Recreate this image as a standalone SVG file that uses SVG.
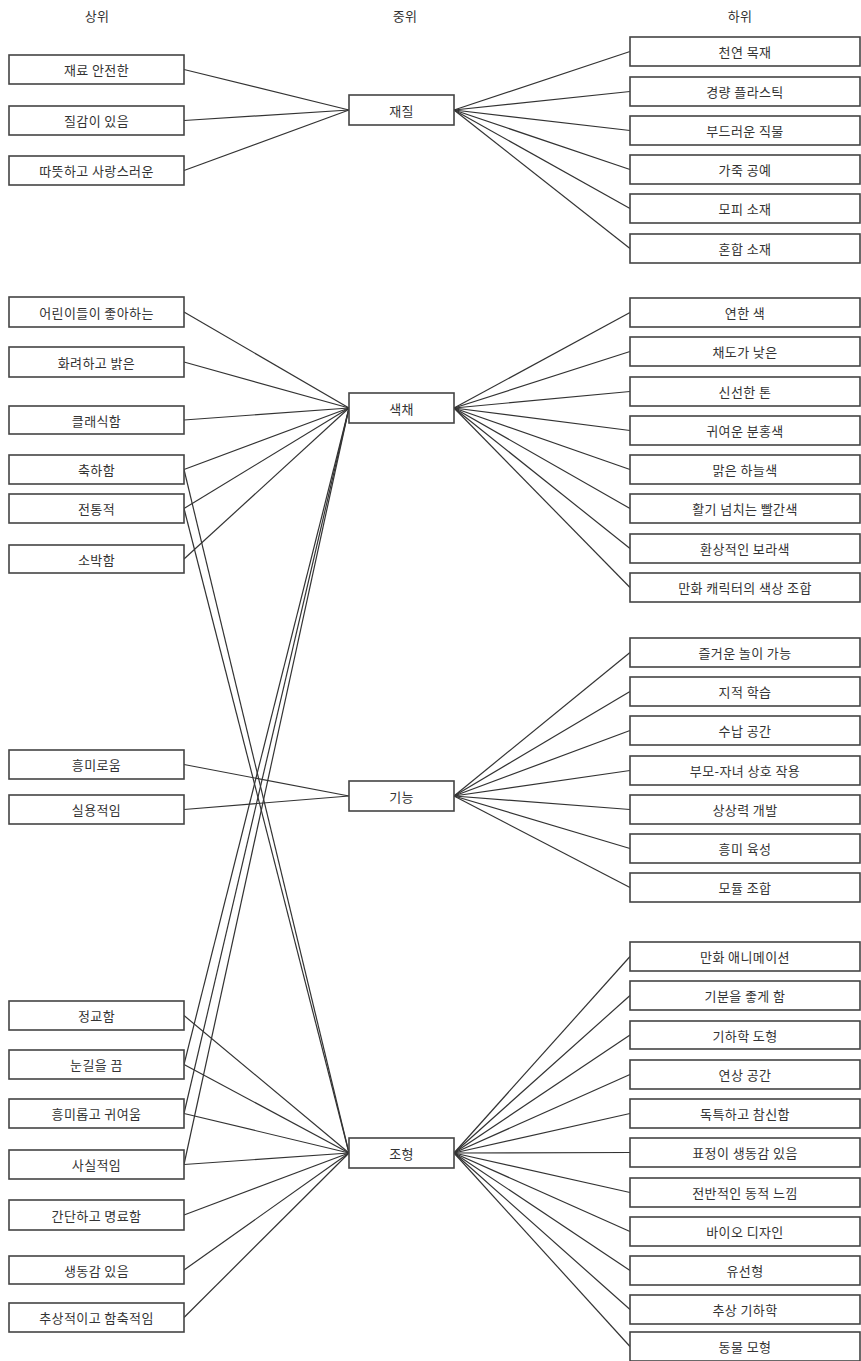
<svg xmlns="http://www.w3.org/2000/svg" width="861" height="1361" viewBox="0 0 861 1361">
<style>
.b{fill:#fff;stroke:#444;stroke-width:1.6}
.t{font-family:"Noto Sans CJK KR","Noto Sans",sans-serif;font-size:13px;letter-spacing:0.4px;fill:#333;text-anchor:middle;dominant-baseline:central}
.c line{stroke:#333;stroke-width:1.2}
</style>
<rect width="861" height="1361" fill="#fff"/>
<g id="headers">
<text class="t" x="97" y="15">상위</text>
<text class="t" x="405" y="15">중위</text>
<text class="t" x="740" y="15">하위</text>
</g>
<g class="c" id="connectors">
<line x1="184" y1="69.5" x2="349" y2="110"/>
<line x1="184" y1="120.5" x2="349" y2="110"/>
<line x1="184" y1="170.5" x2="349" y2="110"/>
<line x1="454" y1="110" x2="630" y2="51.5"/>
<line x1="454" y1="110" x2="630" y2="91.5"/>
<line x1="454" y1="110" x2="630" y2="130.5"/>
<line x1="454" y1="110" x2="630" y2="169.5"/>
<line x1="454" y1="110" x2="630" y2="208.5"/>
<line x1="454" y1="110" x2="630" y2="248.5"/>
<line x1="184" y1="312" x2="349" y2="408"/>
<line x1="184" y1="362" x2="349" y2="408"/>
<line x1="184" y1="420" x2="349" y2="408"/>
<line x1="184" y1="469.5" x2="349" y2="408"/>
<line x1="184" y1="508.5" x2="349" y2="408"/>
<line x1="184" y1="559" x2="349" y2="408"/>
<line x1="184" y1="1064.5" x2="349" y2="408"/>
<line x1="184" y1="1113.5" x2="349" y2="408"/>
<line x1="184" y1="1164.5" x2="349" y2="408"/>
<line x1="454" y1="408" x2="630" y2="312.5"/>
<line x1="454" y1="408" x2="630" y2="351.5"/>
<line x1="454" y1="408" x2="630" y2="391.5"/>
<line x1="454" y1="408" x2="630" y2="430.5"/>
<line x1="454" y1="408" x2="630" y2="469.5"/>
<line x1="454" y1="408" x2="630" y2="508.5"/>
<line x1="454" y1="408" x2="630" y2="548.5"/>
<line x1="454" y1="408" x2="630" y2="587.5"/>
<line x1="184" y1="764.5" x2="349" y2="796"/>
<line x1="184" y1="809.5" x2="349" y2="796"/>
<line x1="454" y1="796" x2="630" y2="652.5"/>
<line x1="454" y1="796" x2="630" y2="691.5"/>
<line x1="454" y1="796" x2="630" y2="730.5"/>
<line x1="454" y1="796" x2="630" y2="770.5"/>
<line x1="454" y1="796" x2="630" y2="809.5"/>
<line x1="454" y1="796" x2="630" y2="848.5"/>
<line x1="454" y1="796" x2="630" y2="887.5"/>
<line x1="184" y1="469.5" x2="349" y2="1153"/>
<line x1="184" y1="508.5" x2="349" y2="1153"/>
<line x1="184" y1="1015.5" x2="349" y2="1153"/>
<line x1="184" y1="1064.5" x2="349" y2="1153"/>
<line x1="184" y1="1113.5" x2="349" y2="1153"/>
<line x1="184" y1="1164.5" x2="349" y2="1153"/>
<line x1="184" y1="1215" x2="349" y2="1153"/>
<line x1="184" y1="1270" x2="349" y2="1153"/>
<line x1="184" y1="1317.5" x2="349" y2="1153"/>
<line x1="454" y1="1153" x2="630" y2="956.5"/>
<line x1="454" y1="1153" x2="630" y2="995.5"/>
<line x1="454" y1="1153" x2="630" y2="1035"/>
<line x1="454" y1="1153" x2="630" y2="1074.5"/>
<line x1="454" y1="1153" x2="630" y2="1113.5"/>
<line x1="454" y1="1153" x2="630" y2="1152.5"/>
<line x1="454" y1="1153" x2="630" y2="1192.5"/>
<line x1="454" y1="1153" x2="630" y2="1231.5"/>
<line x1="454" y1="1153" x2="630" y2="1270.5"/>
<line x1="454" y1="1153" x2="630" y2="1309.5"/>
<line x1="454" y1="1153" x2="630" y2="1346.5"/>
</g>
<g id="u1"><rect class="b" x="9" y="55" width="175" height="29"/><text class="t" x="96.5" y="69.5">재료 안전한</text></g>
<g id="u2"><rect class="b" x="9" y="106" width="175" height="29"/><text class="t" x="96.5" y="120.5">질감이 있음</text></g>
<g id="u3"><rect class="b" x="9" y="156" width="175" height="29"/><text class="t" x="96.5" y="170.5">따뜻하고 사랑스러운</text></g>
<g id="u4"><rect class="b" x="9" y="297" width="175" height="30"/><text class="t" x="96.5" y="312">어린이들이 좋아하는</text></g>
<g id="u5"><rect class="b" x="9" y="347" width="175" height="30"/><text class="t" x="96.5" y="362">화려하고 밝은</text></g>
<g id="u6"><rect class="b" x="9" y="406" width="175" height="28"/><text class="t" x="96.5" y="420">클래식함</text></g>
<g id="u7"><rect class="b" x="9" y="455" width="175" height="29"/><text class="t" x="96.5" y="469.5">축하함</text></g>
<g id="u8"><rect class="b" x="9" y="494" width="175" height="29"/><text class="t" x="96.5" y="508.5">전통적</text></g>
<g id="u9"><rect class="b" x="9" y="545" width="175" height="28"/><text class="t" x="96.5" y="559">소박함</text></g>
<g id="u10"><rect class="b" x="9" y="750" width="175" height="29"/><text class="t" x="96.5" y="764.5">흥미로움</text></g>
<g id="u11"><rect class="b" x="9" y="795" width="175" height="29"/><text class="t" x="96.5" y="809.5">실용적임</text></g>
<g id="u12"><rect class="b" x="9" y="1001" width="175" height="29"/><text class="t" x="96.5" y="1015.5">정교함</text></g>
<g id="u13"><rect class="b" x="9" y="1050" width="175" height="29"/><text class="t" x="96.5" y="1064.5">눈길을 끔</text></g>
<g id="u14"><rect class="b" x="9" y="1099" width="175" height="29"/><text class="t" x="96.5" y="1113.5">흥미롭고 귀여움</text></g>
<g id="u15"><rect class="b" x="9" y="1150" width="175" height="29"/><text class="t" x="96.5" y="1164.5">사실적임</text></g>
<g id="u16"><rect class="b" x="9" y="1200" width="175" height="30"/><text class="t" x="96.5" y="1215">간단하고 명료함</text></g>
<g id="u17"><rect class="b" x="9" y="1256" width="175" height="28"/><text class="t" x="96.5" y="1270">생동감 있음</text></g>
<g id="u18"><rect class="b" x="9" y="1303" width="175" height="29"/><text class="t" x="96.5" y="1317.5">추상적이고 함축적임</text></g>
<g id="m1"><rect class="b" x="349" y="95" width="105" height="30"/><text class="t" x="401.5" y="110">재질</text></g>
<g id="m2"><rect class="b" x="349" y="393" width="105" height="30"/><text class="t" x="401.5" y="408">색채</text></g>
<g id="m3"><rect class="b" x="349" y="781" width="105" height="30"/><text class="t" x="401.5" y="796">기능</text></g>
<g id="m4"><rect class="b" x="349" y="1138" width="105" height="30"/><text class="t" x="401.5" y="1153">조형</text></g>
<g id="d1"><rect class="b" x="630" y="37" width="230" height="29"/><text class="t" x="745" y="51.5">천연 목재</text></g>
<g id="d2"><rect class="b" x="630" y="77" width="230" height="29"/><text class="t" x="745" y="91.5">경량 플라스틱</text></g>
<g id="d3"><rect class="b" x="630" y="116" width="230" height="29"/><text class="t" x="745" y="130.5">부드러운 직물</text></g>
<g id="d4"><rect class="b" x="630" y="155" width="230" height="29"/><text class="t" x="745" y="169.5">가죽 공예</text></g>
<g id="d5"><rect class="b" x="630" y="194" width="230" height="29"/><text class="t" x="745" y="208.5">모피 소재</text></g>
<g id="d6"><rect class="b" x="630" y="234" width="230" height="29"/><text class="t" x="745" y="248.5">혼합 소재</text></g>
<g id="d7"><rect class="b" x="630" y="298" width="230" height="29"/><text class="t" x="745" y="312.5">연한 색</text></g>
<g id="d8"><rect class="b" x="630" y="337" width="230" height="29"/><text class="t" x="745" y="351.5">채도가 낮은</text></g>
<g id="d9"><rect class="b" x="630" y="377" width="230" height="29"/><text class="t" x="745" y="391.5">신선한 톤</text></g>
<g id="d10"><rect class="b" x="630" y="416" width="230" height="29"/><text class="t" x="745" y="430.5">귀여운 분홍색</text></g>
<g id="d11"><rect class="b" x="630" y="455" width="230" height="29"/><text class="t" x="745" y="469.5">맑은 하늘색</text></g>
<g id="d12"><rect class="b" x="630" y="494" width="230" height="29"/><text class="t" x="745" y="508.5">활기 넘치는 빨간색</text></g>
<g id="d13"><rect class="b" x="630" y="534" width="230" height="29"/><text class="t" x="745" y="548.5">환상적인 보라색</text></g>
<g id="d14"><rect class="b" x="630" y="573" width="230" height="29"/><text class="t" x="745" y="587.5">만화 캐릭터의 색상 조합</text></g>
<g id="d15"><rect class="b" x="630" y="638" width="230" height="29"/><text class="t" x="745" y="652.5">즐거운 놀이 가능</text></g>
<g id="d16"><rect class="b" x="630" y="677" width="230" height="29"/><text class="t" x="745" y="691.5">지적 학습</text></g>
<g id="d17"><rect class="b" x="630" y="716" width="230" height="29"/><text class="t" x="745" y="730.5">수납 공간</text></g>
<g id="d18"><rect class="b" x="630" y="756" width="230" height="29"/><text class="t" x="745" y="770.5">부모-자녀 상호 작용</text></g>
<g id="d19"><rect class="b" x="630" y="795" width="230" height="29"/><text class="t" x="745" y="809.5">상상력 개발</text></g>
<g id="d20"><rect class="b" x="630" y="834" width="230" height="29"/><text class="t" x="745" y="848.5">흥미 육성</text></g>
<g id="d21"><rect class="b" x="630" y="873" width="230" height="29"/><text class="t" x="745" y="887.5">모듈 조합</text></g>
<g id="d22"><rect class="b" x="630" y="942" width="230" height="29"/><text class="t" x="745" y="956.5">만화 애니메이션</text></g>
<g id="d23"><rect class="b" x="630" y="981" width="230" height="29"/><text class="t" x="745" y="995.5">기분을 좋게 함</text></g>
<g id="d24"><rect class="b" x="630" y="1021" width="230" height="28"/><text class="t" x="745" y="1035">기하학 도형</text></g>
<g id="d25"><rect class="b" x="630" y="1060" width="230" height="29"/><text class="t" x="745" y="1074.5">연상 공간</text></g>
<g id="d26"><rect class="b" x="630" y="1099" width="230" height="29"/><text class="t" x="745" y="1113.5">독특하고 참신함</text></g>
<g id="d27"><rect class="b" x="630" y="1138" width="230" height="29"/><text class="t" x="745" y="1152.5">표정이 생동감 있음</text></g>
<g id="d28"><rect class="b" x="630" y="1178" width="230" height="29"/><text class="t" x="745" y="1192.5">전반적인 동적 느낌</text></g>
<g id="d29"><rect class="b" x="630" y="1217" width="230" height="29"/><text class="t" x="745" y="1231.5">바이오 디자인</text></g>
<g id="d30"><rect class="b" x="630" y="1256" width="230" height="29"/><text class="t" x="745" y="1270.5">유선형</text></g>
<g id="d31"><rect class="b" x="630" y="1295" width="230" height="29"/><text class="t" x="745" y="1309.5">추상 기하학</text></g>
<g id="d32"><rect class="b" x="630" y="1332" width="230" height="29"/><text class="t" x="745" y="1346.5">동물 모형</text></g>
</svg>
